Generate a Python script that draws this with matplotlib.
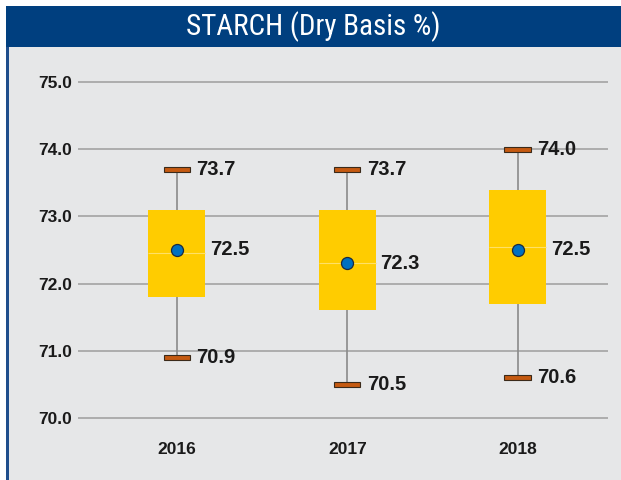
import matplotlib.pyplot as plt
import numpy as np
from matplotlib.patches import Rectangle

years = ["2016", "2017", "2018"]
mins = [70.9, 70.5, 70.6]
q1 = [71.8, 71.6, 71.7]
medians = [72.45, 72.3, 72.55]
q3 = [73.1, 73.1, 73.4]
maxs = [73.7, 73.7, 74.0]
means = [72.5, 72.3, 72.5]

yticks = [70.0, 71.0, 72.0, 73.0, 74.0, 75.0]

plt.rcParams["font.family"] = ["Liberation Sans", "DejaVu Sans"]

W, H = 621, 480
fig = plt.figure(figsize=(W / 100, H / 100), dpi=100)
fig.patch.set_facecolor("white")

# background panel and title bar
fig.patches.append(Rectangle((6 / W, 0), 1, 1 - 47 / H, transform=fig.transFigure,
                             facecolor="#e6e7e8", edgecolor="none", zorder=-3))
fig.patches.append(Rectangle((6 / W, 0), 2.5 / W, 1 - 47 / H, transform=fig.transFigure,
                             facecolor="#1f4e8c", edgecolor="none", zorder=-2))
fig.patches.append(Rectangle((6 / W, 1 - 47 / H), 1, 41 / H, transform=fig.transFigure,
                             facecolor="#003f7f", edgecolor="none", zorder=-2))
fig.text((6 + W) / 2 / W, 1 - 27 / H, "STARCH (Dry Basis %)", color="white",
         fontsize=21, fontweight="normal", ha="center", va="center",
         family=["Roboto Condensed", "Liberation Sans Narrow", "Liberation Sans"])

ax = fig.add_axes([78 / W, 50 / H, 530 / W, 360 / H])
ax.set_zorder(2)
ax.set_facecolor("none")
x = np.arange(len(years))

ax.set_xlim(-0.58, 2.53)
ax.set_ylim(70 - 12 / 67.2, 75 + 12 / 67.2)
ax.set_yticks(yticks)
ax.set_yticklabels([f"{v:.1f}" for v in yticks])
ax.set_xticks(x)
ax.set_xticklabels(years)
for s in ax.spines.values():
    s.set_visible(False)
ax.tick_params(length=0)
ax.tick_params(axis="y", pad=4)
ax.tick_params(axis="x", pad=9)
for lbl in ax.get_xticklabels() + ax.get_yticklabels():
    lbl.set_fontweight("bold")
    lbl.set_fontsize(12.5)
    lbl.set_color("#1a1a1a")
ax.grid(axis="y", color="#9d9d9d", linewidth=1.1, zorder=0)
ax.set_axisbelow(True)

# whiskers
ax.vlines(x, mins, maxs, color="#8a8a8a", linewidth=1.2, zorder=2)
# boxes
ax.bar(x, np.array(q3) - np.array(q1), bottom=q1, width=0.334,
       color="#ffcc00", edgecolor="none", zorder=3)
ax.hlines(medians, x - 0.167, x + 0.167, color="#ffe066", linewidth=0.8, zorder=4)
# caps
for vals in (mins, maxs):
    ax.bar(x, 0.075, bottom=np.array(vals) - 0.0375, width=0.155,
           color="#c55a11", edgecolor="#3a2a1a", linewidth=0.8, zorder=4)
# means
ax.scatter(x, means, s=75, color="#0070c0", edgecolor="#1a2a40", linewidth=0.9, zorder=5)

for i in x:
    ax.text(i + 0.115, maxs[i], f"{maxs[i]:.1f}", ha="left", va="center",
            fontsize=14.5, fontweight="bold", color="#1a1a1a")
    ax.text(i + 0.115, mins[i], f"{mins[i]:.1f}", ha="left", va="center",
            fontsize=14.5, fontweight="bold", color="#1a1a1a")
    ax.text(i + 0.195, means[i], f"{means[i]:.1f}", ha="left", va="center",
            fontsize=14.5, fontweight="bold", color="#1a1a1a")

fig.savefig("out.png", dpi=100)
